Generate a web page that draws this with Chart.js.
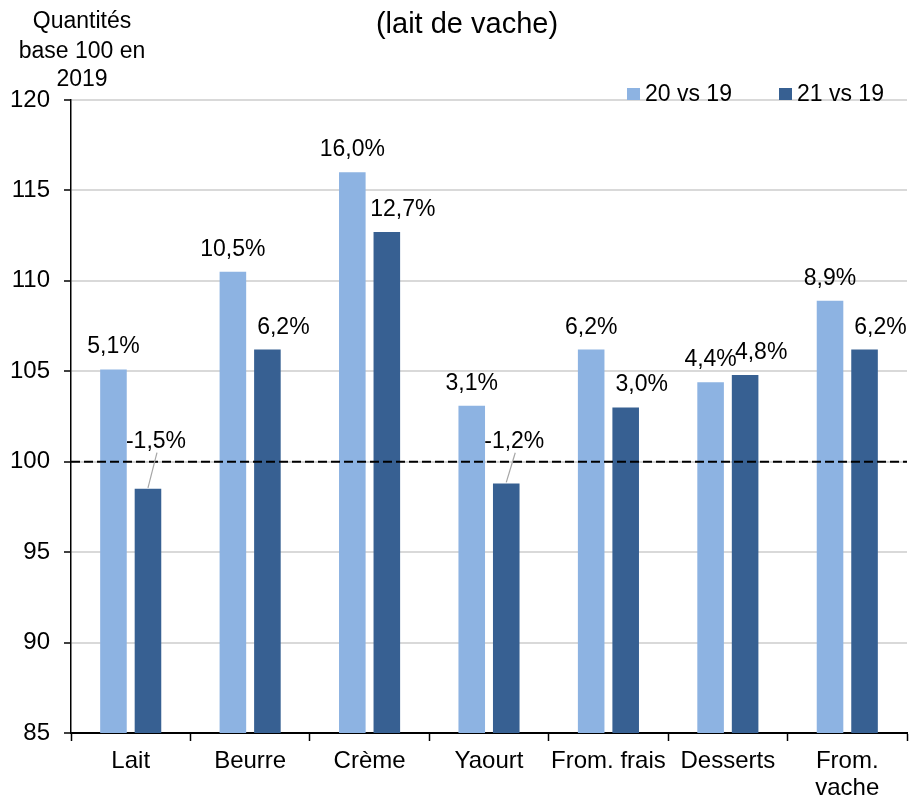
<!DOCTYPE html>
<html>
<head>
<meta charset="utf-8">
<script src="https://cdn.jsdelivr.net/npm/chart.js@4"></script>
<style>
  html, body { margin: 0; padding: 0; background: #fff; }
  #wrap { width: 909px; height: 798px; }
</style>
</head>
<body>
<div id="wrap"><canvas id="chart" width="909" height="798"></canvas></div>
<script>
// categories and series (quantités base 100 en 2019)
const categories = ['Lait', 'Beurre', 'Crème', 'Yaourt', 'From. frais', 'Desserts', ['From.', 'vache']];
const seriesNames = ['20 vs 19', '21 vs 19'];
const values2020 = [105.1, 110.5, 116.0, 103.1, 106.2, 104.4, 108.9];
const values2021 = [98.5, 106.2, 112.7, 98.8, 103.0, 104.8, 106.2];
const yTicks = [85, 90, 95, 100, 105, 110, 115, 120];

const lightBlue = '#8DB3E2';
const darkBlue = '#376092';
const font = "'Liberation Sans', Arial, sans-serif";

const pct = (v) => {
  const d = (v - 100).toFixed(1).replace('.', ',');
  return d + '%';
};

// titles, legend, base-100 line and value labels
const decorations = {
  id: 'decorations',
  afterDatasetsDraw(chart) {
    const ctx = chart.ctx;
    const area = chart.chartArea;
    const y = chart.scales.y;

    // dashed reference line at 100
    const y100 = y.getPixelForValue(100);
    ctx.save();
    ctx.strokeStyle = '#000';
    ctx.lineWidth = 2;
    ctx.setLineDash([9, 4]);
    ctx.beginPath();
    ctx.moveTo(area.left, y100);
    ctx.lineTo(area.right, y100);
    ctx.stroke();
    ctx.restore();

    // value labels
    ctx.save();
    ctx.font = '23px ' + font;
    ctx.fillStyle = '#000';
    ctx.textAlign = 'center';
    ctx.textBaseline = 'alphabetic';
    chart.data.datasets.forEach((ds, di) => {
      const meta = chart.getDatasetMeta(di);
      meta.data.forEach((bar, i) => {
        const v = ds.data[i];
        const text = pct(v);
        const shift = di === 1 ? 16 : 0;
        if (v < 100) {
          // label sits above the dashed line with a leader to the bar
          const lx = bar.x + 8;
          const ly = y100 - 14;
          ctx.fillText(text, lx, ly);
          ctx.save();
          ctx.strokeStyle = '#A6A6A6';
          ctx.lineWidth = 1.2;
          ctx.beginPath();
          ctx.moveTo(lx + 1, ly + 5);
          ctx.lineTo(bar.x, bar.y - 1);
          ctx.stroke();
          ctx.restore();
        } else {
          ctx.fillText(text, bar.x + shift, bar.y - 16);
        }
      });
    });
    ctx.restore();
  },
  afterDraw(chart) {
    const ctx = chart.ctx;
    ctx.save();
    ctx.fillStyle = '#000';
    ctx.textAlign = 'center';
    ctx.textBaseline = 'alphabetic';

    // chart title (second line)
    ctx.font = '29px ' + font;
    ctx.fillText('(lait de vache)', 467, 33);

    // y axis title
    ctx.font = '23px ' + font;
    ctx.fillText('Quantités', 82, 28);
    ctx.fillText('base 100 en', 82, 58);
    ctx.fillText('2019', 82, 86);

    // legend
    const items = [
      { label: seriesNames[0], color: lightBlue, x: 627 },
      { label: seriesNames[1], color: darkBlue, x: 779 },
    ];
    ctx.textAlign = 'left';
    items.forEach((it) => {
      ctx.fillStyle = it.color;
      ctx.fillRect(it.x, 88, 13, 12);
      ctx.fillStyle = '#000';
      ctx.fillText(it.label, it.x + 18, 101);
    });
    ctx.restore();
  }
};

new Chart(document.getElementById('chart'), {
  type: 'bar',
  data: {
    labels: categories,
    datasets: [
      {
        label: seriesNames[0],
        data: values2020,
        backgroundColor: lightBlue,
        borderWidth: 0,
        categoryPercentage: 0.578,
        barPercentage: 0.77,
      },
      {
        label: seriesNames[1],
        data: values2021,
        backgroundColor: darkBlue,
        borderWidth: 0,
        categoryPercentage: 0.578,
        barPercentage: 0.77,
      },
    ],
  },
  options: {
    responsive: false,
    animation: false,
    layout: { padding: { top: 100, left: 0, right: 2, bottom: 0 } },
    plugins: {
      legend: { display: false },
      tooltip: { enabled: false },
    },
    scales: {
      x: {
        afterFit: (scale) => { scale.height = 65; },
        grid: {
          offset: true,
          drawOnChartArea: false,
          tickLength: 8,
          tickColor: '#000',
          tickWidth: 1.5,
        },
        border: { color: '#000', width: 2 },
        ticks: {
          color: '#000',
          font: { family: font, size: 24, lineHeight: 1.12 },
          padding: 7,
          maxRotation: 0,
          autoSkip: false,
        },
      },
      y: {
        min: 85,
        max: 120,
        afterFit: (scale) => { scale.width = 71; },
        afterBuildTicks: (scale) => {
          scale.ticks = yTicks.map((v) => ({ value: v }));
        },
        grid: {
          color: '#D9D9D9',
          lineWidth: 2,
          tickLength: 7,
          tickColor: '#000',
          tickWidth: 1.5,
        },
        border: { color: '#000', width: 1.5 },
        ticks: {
          color: '#000',
          font: { family: font, size: 24 },
          padding: 14,
        },
      },
    },
  },
  plugins: [decorations],
});
</script>
</body>
</html>
